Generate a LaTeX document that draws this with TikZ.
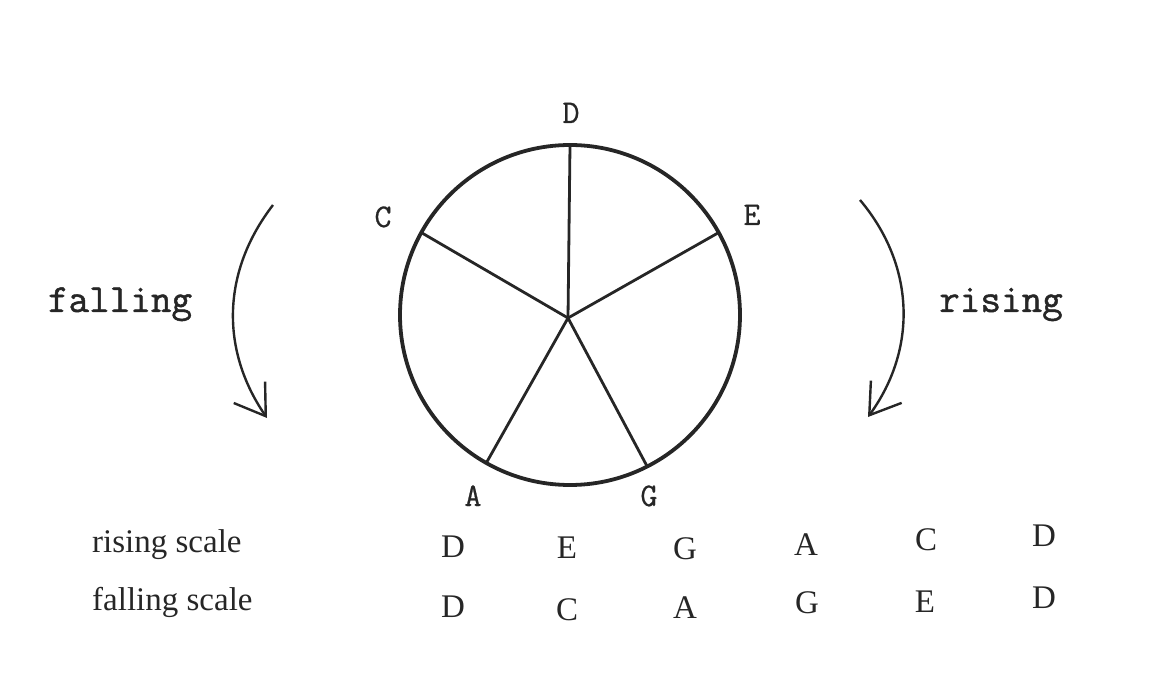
\documentclass[tikz,border=0pt]{standalone}
\usepackage{fontspec}
\setmainfont{Liberation Serif}
\newfontfamily\twfont[FakeBold=1.2]{Latin Modern Mono}
\newfontfamily\lblfont[FakeBold=0.7]{Latin Modern Mono}
\usepackage{tikz}
\usetikzlibrary{calc,arrows.meta}
\definecolor{ink}{HTML}{262626}
\tikzset{
  wheel/.style={line width=3.8pt,ink},
  spoke/.style={line width=2.8pt,ink},
  ar/.style={-{Straight Barb[length=29pt,width=38pt,line width=2.4pt]},line width=2.4pt,ink},
  note/.style={font=\fontsize{33}{37}\selectfont\lblfont,text=ink,anchor=base,inner sep=0pt},
  scl/.style={font=\fontsize{33}{37}\selectfont,text=ink,anchor=base,inner sep=0pt},
  tw/.style={font=\fontsize{40}{44}\selectfont\twfont,text=ink,anchor=base,inner sep=0pt}
}

\begin{document}
\begin{tikzpicture}[x=1pt,y=1pt]
\useasboundingbox (0,0) rectangle (1151,697);
\def\R{170}
\coordinate (O) at (570,382);
\coordinate (H) at (568,379);
\draw[wheel] (O) circle (\R);
% spokes of the wheel
\foreach \a/\n in {90/D,29/E,151/C,240.5/A,297/G}{
  \coordinate (p\n) at ($(O)+(\a:\R)$);
  \draw[spoke] (H) -- (p\n);
}
\node[note] (lD) at (571,574) {D};
\node[note] (lE) at (752,472) {E};
\node[note] (lC) at (383,470) {C};
\node[note] (lA) at (473,191) {A};
\node[note] (lG) at (649,191) {G};
% direction arrows
\coordinate (fa1) at (273,492); \coordinate (fa2) at (267,279);
\coordinate (ra1) at (860,497); \coordinate (ra2) at (868,280);
\draw[ar] (fa1) to[bend right=36] (fa2);
\draw[ar] (ra1) to[bend left=38] (ra2);
\node[tw] (fall) at (120,385) {falling};
\node[tw] (rise) at (1001,385) {rising};
% the two scales
\node[scl,anchor=base west] (rs) at (92,145) {rising scale};
\node[scl,anchor=base west] (fs) at (92,87) {falling scale};
\foreach \x/\y/\l [count=\i] in {453/140/D,567/139/E,685/138/G,806/142/A,926/147/C,1044/151/D}
  \node[scl] (r\i) at (\x,\y) {\l};
\foreach \x/\y/\l [count=\i] in {453/80/D,567/77/C,685/79/A,807/84/G,925/85/E,1044/89/D}
  \node[scl] (f\i) at (\x,\y) {\l};
\end{tikzpicture}
\end{document}
